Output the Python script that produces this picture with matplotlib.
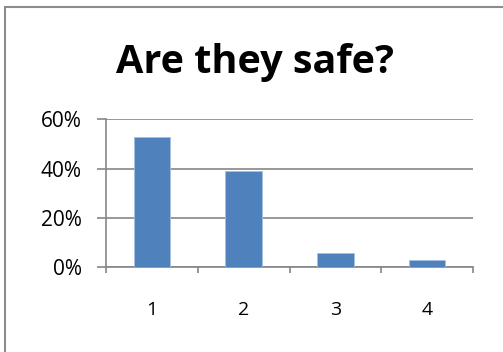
import matplotlib
matplotlib.use("Agg")
import matplotlib.pyplot as plt
from matplotlib.patches import Rectangle
from matplotlib.ticker import FuncFormatter, FixedLocator

# answers and share of responses
categories = ["1", "2", "3", "4"]
shares = [0.53, 0.39, 0.06, 0.03]
yticks = [0.0, 0.2, 0.4, 0.6]

plt.rcParams["font.family"] = ["Open Sans", "DejaVu Sans"]

fig = plt.figure(figsize=(5.03, 3.52), dpi=100)
fig.patch.set_facecolor("white")

# chart frame
fig.patches.append(Rectangle((5 / 503, -0.05), 1.2, (352 - 7) / 352 + 0.05,
                             transform=fig.transFigure, fill=False,
                             edgecolor="#8c8c8c", linewidth=1.5))

ax = fig.add_axes([106 / 503, 84.7 / 352, 367 / 503, 148 / 352])
x = range(len(categories))
ax.bar(x, shares, width=0.4, color="#4F81BD", edgecolor="#a7c0de",
       linewidth=0.6, zorder=3)

ax.set_xlim(-0.5, len(categories) - 0.5)
ax.set_ylim(0, 0.6)
ax.set_yticks(yticks)
ax.yaxis.set_major_formatter(FuncFormatter(lambda v, p: "{:.0f}%".format(v * 100)))
ax.grid(axis="y", color="#868686", linewidth=1.2, zorder=0)

ax.set_xticks(list(x))
ax.set_xticklabels(categories)
ax.xaxis.set_minor_locator(FixedLocator([i - 0.5 for i in range(len(categories) + 1)]))
ax.tick_params(axis="x", which="major", length=0, pad=24, labelsize=14)
ax.tick_params(axis="x", which="minor", length=4.5, width=1.2, color="#868686")
ax.tick_params(axis="y", length=6.5, width=1.2, color="#868686", pad=11, labelsize=15)

for side in ["top", "right"]:
    ax.spines[side].set_visible(False)
for side in ["left", "bottom"]:
    ax.spines[side].set_color("#868686")
    ax.spines[side].set_linewidth(1.2)

fig.text(255 / 503, 1 - 62 / 352, "Are they safe?", ha="center", va="center",
         fontsize=28.5, fontweight="bold")

fig.savefig("out.png", dpi=100)
